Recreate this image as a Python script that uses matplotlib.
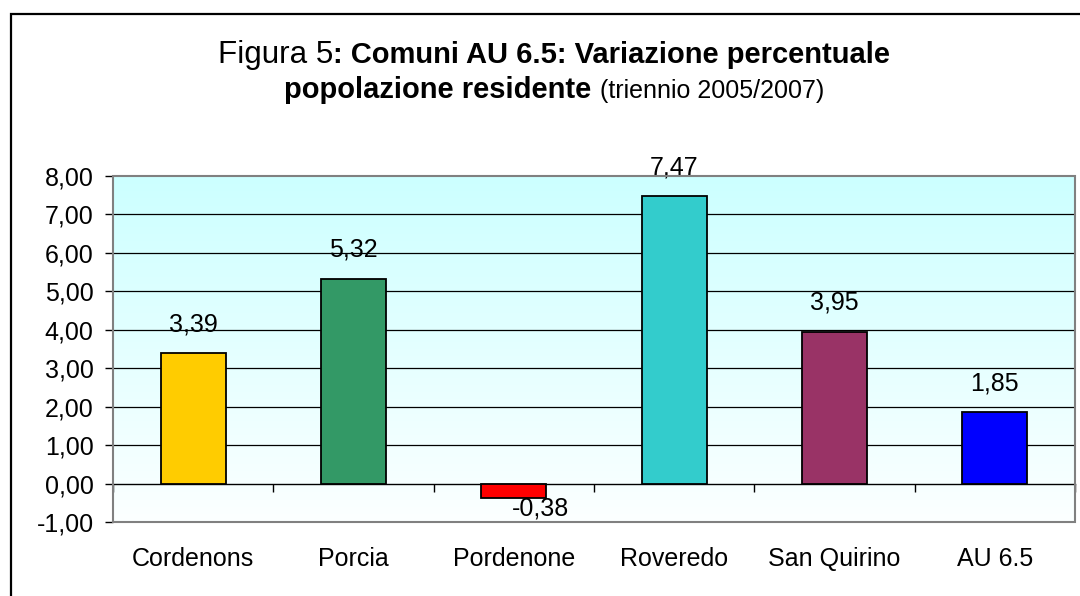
"""Comuni AU 6.5 - variazione percentuale popolazione residente (2005/2007)."""

import numpy as np
import matplotlib
matplotlib.use("Agg")
import matplotlib.pyplot as plt
from matplotlib.patches import Rectangle
from matplotlib.offsetbox import TextArea, HPacker, VPacker, AnchoredOffsetbox
from matplotlib.colors import LinearSegmentedColormap

plt.rcParams['font.family'] = ['Liberation Sans', 'DejaVu Sans']

# ── dati ───────────────────────────────────────────────────────────────────
comuni = ["Cordenons", "Porcia", "Pordenone", "Roveredo", "San Quirino", "AU 6.5"]
variazione = [3.39, 5.32, -0.38, 7.47, 3.95, 1.85]
colori = ["#FFCC00", "#339966", "#FF0000", "#33CCCC", "#993366", "#0000FF"]
y_ticks = [-1, 0, 1, 2, 3, 4, 5, 6, 7, 8]

fmt = lambda v: f"{v:.2f}".replace(".", ",")
FS = 18

fig = plt.figure(figsize=(10.8, 5.96), dpi=100)
ax = fig.add_axes([113 / 1080, 74 / 596, 962 / 1080, 346 / 596])

# sfondo sfumato (ciano -> bianco)
grad = LinearSegmentedColormap.from_list("bg", ["#FCFFFF", "#CCFFFF"])
ax.imshow(np.linspace(0, 1, 256).reshape(-1, 1), cmap=grad, aspect="auto",
          extent=(-0.5, 5.5, -1, 8), origin="lower", zorder=0)

x = np.arange(len(comuni))
ax.set_xlim(-0.5, 5.5)
ax.set_ylim(-1, 8)

for y in y_ticks[2:-1]:
    ax.axhline(y, color="#000000", lw=0.9, zorder=1)

ax.bar(x, variazione, width=0.405, color=colori, edgecolor="black", lw=1.3, zorder=3)

# etichette valori
for xi, v in zip(x, variazione):
    if v >= 0:
        ax.annotate(fmt(v), (xi, v), xytext=(0, 21), textcoords="offset points",
                    ha="center", va="center", fontsize=FS)
    else:
        ax.annotate(fmt(v), (xi, v), xytext=(19, 1), textcoords="offset points",
                    ha="center", va="top", fontsize=FS)

# assi
ax.spines["bottom"].set_position(("data", 0))
ax.spines["bottom"].set_color("black")
ax.spines["bottom"].set_linewidth(1.0)
ax.spines["left"].set_color("black")
ax.spines["left"].set_linewidth(1.3)
ax.spines["top"].set_visible(False)
ax.spines["right"].set_visible(False)
ax.add_patch(Rectangle((0, 0), 1, 1, transform=ax.transAxes, fill=False,
                       edgecolor="#808080", lw=1.5, zorder=5, clip_on=False))

ax.set_yticks(y_ticks)
ax.set_yticklabels([fmt(t) for t in y_ticks])
ax.tick_params(axis="y", direction="out", length=5.5, width=1, pad=8.5, labelsize=FS)

ax.set_xticks(x)
ax.set_xticklabels(comuni)
ax.set_xticks(np.arange(-0.5, len(comuni)), minor=True)
ax.tick_params(axis="x", which="major", length=0, pad=46, labelsize=FS)
ax.tick_params(axis="x", which="minor", direction="out", length=5.5, width=1)

# titolo con stili misti
big = dict(fontsize=22.6, family=['Liberation Sans'])
bold = dict(fontsize=21, fontweight="bold", family=['Liberation Sans'])
small = dict(fontsize=18, family=['Liberation Sans'])
riga1 = HPacker(children=[TextArea("Figura 5", textprops=big),
                          TextArea(": Comuni AU 6.5: Variazione percentuale", textprops=bold)],
                align="baseline", pad=0, sep=0)
riga2 = HPacker(children=[TextArea("popolazione residente ", textprops=bold),
                          TextArea("(triennio 2005/2007)", textprops=small)],
                align="baseline", pad=0, sep=0)
titolo = VPacker(children=[riga1, riga2], align="center", pad=0, sep=4)
box = AnchoredOffsetbox(loc="upper center", child=titolo, frameon=False,
                        bbox_to_anchor=(554 / 1080, 1 - 40 / 596),
                        bbox_transform=fig.transFigure, borderpad=0, pad=0)
fig.add_artist(box)

# cornice esterna
fig.add_artist(Rectangle((11 / 1080, -0.2), 1.2, 1.2 - 14 / 596,
                         transform=fig.transFigure, fill=False,
                         edgecolor="black", lw=1.6))

plt.savefig("out.png", dpi=100)
